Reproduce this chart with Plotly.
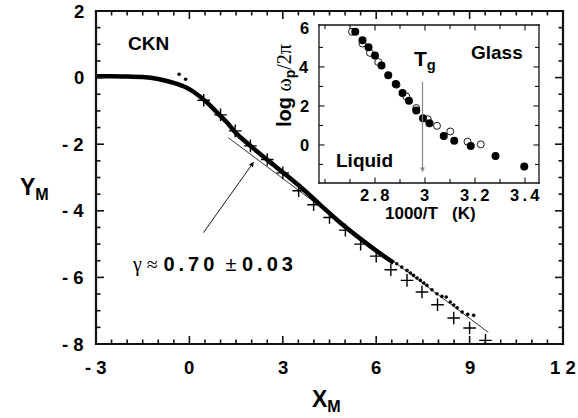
import plotly.graph_objects as go

# ---- master curve Y_M vs X_M (dense dots, drawn as a thick trace) ----
curve_x = [-3.0, -2.5, -2.0, -1.5, -1.0, -0.5, -0.1, 0.24, 0.57, 0.89, 1.21, 1.53,
           2.0, 2.5, 3.14, 3.7, 4.21, 4.8, 5.49, 6.0, 6.56]
curve_y = [0.04, 0.04, 0.03, 0.02, -0.04, -0.16, -0.30, -0.50, -0.75, -1.05, -1.35, -1.70,
           -2.08, -2.47, -2.95, -3.39, -3.83, -4.32, -4.84, -5.20, -5.56]

# sparse dots at the tail of the curve and a couple of stray points near the knee
dots_x = [-0.33, -0.12, 6.66, 6.82, 6.99, 7.10, 7.20, 7.31, 7.42, 7.53, 7.63, 7.79, 7.95,
          8.11, 8.25, 8.38, 8.49, 8.60, 8.76, 8.94, 9.13]
dots_y = [0.10, -0.05, -5.59, -5.69, -5.79, -5.87, -5.94, -6.02, -6.09, -6.17, -6.24, -6.37,
          -6.49, -6.57, -6.59, -6.74, -6.83, -6.91, -7.04, -7.11, -7.14]

# second data set (crosses)
cross_x = [0.46, 1.0, 1.47, 1.96, 2.5, 3.0, 3.51, 3.99, 4.50, 5.01, 5.50, 6.00, 6.47, 6.99,
           7.47, 7.97, 8.49, 9.00, 9.51]
cross_y = [-0.68, -1.12, -1.60, -2.05, -2.46, -2.86, -3.40, -3.82, -4.20, -4.58, -5.00, -5.36,
           -5.77, -6.09, -6.44, -6.82, -7.22, -7.52, -7.89]

# power-law fit line, slope -gamma
GAMMA = 0.70
GAMMA_ERR = 0.03
FIT_INTERCEPT = -0.93
fit_x = [1.25, 9.60]

# ---- inset: log(omega_p / 2 pi) vs 1000/T ----
filled_x = [2.721, 2.750, 2.774, 2.800, 2.826, 2.853, 2.883, 2.910, 2.936, 2.965, 2.992,
            3.018, 3.075, 3.117, 3.183, 3.282, 3.397]
filled_y = [5.80, 5.37, 5.01, 4.58, 4.07, 3.57, 3.12, 2.66, 2.26, 1.77, 1.37, 1.11, 0.46,
            0.22, -0.05, -0.57, -1.11]
open_x = [2.708, 2.750, 2.780, 2.813, 2.886, 2.925, 2.965, 3.011, 3.048, 3.101, 3.170, 3.223]
open_y = [5.80, 5.20, 4.72, 4.25, 3.09, 2.49, 1.89, 1.32, 0.98, 0.69, 0.17, 0.03]
TG = 2.99

# tick labels
main_xticks = [-3, 0, 3, 6, 9, 12]
main_xtext = ["- 3", "0", "3", "6", "9", "1 2"]
main_yticks = [2, 0, -2, -4, -6, -8]
main_ytext = ["2", "0", "- 2", "- 4", "- 6", "- 8"]
inset_xticks = [2.8, 3.0, 3.2, 3.4]
inset_xtext = ["2.8", "3", "3.2", "3.4"]
inset_yticks = [0, 2, 4, 6]
inset_ytext = ["0", "2", "4", "6"]

MAIN_XRANGE = [-3, 12]
MAIN_YRANGE = [-8, 2]
INSET_XRANGE = [2.576, 3.456]
INSET_YRANGE = [-1.95, 6.15]

# minor tick positions
main_xminor = [-3 + 0.5 * i for i in range(31)]
main_yminor = [-8 + 0.5 * i for i in range(21)]
inset_xminor = [2.6 + 0.1 * i for i in range(9)]
inset_yminor = [-1 + i for i in range(7)]

W, H = 578, 418
MARGIN = dict(l=96, r=15, t=11, b=74)
MAIN_DOM_X, MAIN_DOM_Y = [0, 1], [0, 1]
INSET_DOM_X, INSET_DOM_Y = [0.4775, 0.9486], [0.4835, 0.958]
PLOT_W = W - MARGIN["l"] - MARGIN["r"]
PLOT_H = H - MARGIN["t"] - MARGIN["b"]

# plotly's line-ns / line-ew symbols are 1.4 x the marker size long
LINE_SYMBOL_SCALE = 1.4

INK = "#111111"
FONT = "Liberation Sans, Arial, sans-serif"
SERIF = "Liberation Serif, Times New Roman, serif"


def spaced(s):
    # thin spaces between characters, for the wide-set numerals
    return "\u2009".join(s)


fig = go.Figure()

fig.add_trace(go.Scatter(x=curve_x, y=curve_y, mode="lines",
                         line=dict(color="black", width=4.5, shape="spline"),
                         hoverinfo="skip"))
fig.add_trace(go.Scatter(x=dots_x, y=dots_y, mode="markers",
                         marker=dict(color="black", size=3.6)))
fig.add_trace(go.Scatter(x=fit_x, y=[FIT_INTERCEPT - GAMMA * v for v in fit_x], mode="lines",
                         line=dict(color="black", width=0.8)))
fig.add_trace(go.Scatter(x=cross_x, y=cross_y, mode="markers",
                         marker=dict(symbol="cross-thin", size=9, color="black",
                                     line=dict(color="black", width=1.4))))

fig.add_trace(go.Scatter(x=open_x, y=open_y, mode="markers", xaxis="x2", yaxis="y2",
                         marker=dict(symbol="circle-open", size=7, color="black",
                                     line=dict(color="black", width=0.9))))
fig.add_trace(go.Scatter(x=filled_x, y=filled_y, mode="markers", xaxis="x2", yaxis="y2",
                         marker=dict(symbol="circle", size=8, color="black")))


def bar_markers(xa, ya, xs, ys, symbol, length_px, width):
    """Straight strokes of a given pixel length, centred on each (x, y)."""
    fig.add_trace(go.Scatter(x=xs, y=ys, mode="markers", xaxis=xa, yaxis=ya,
                             hoverinfo="skip", cliponaxis=False,
                             marker=dict(symbol=symbol, size=length_px / LINE_SYMBOL_SCALE,
                                         color=INK, line=dict(color=INK, width=width))))


def add_frame(xa, ya, xrng, yrng, dom_x, dom_y, lw, major_x, minor_x, major_y, minor_y,
              tmaj, tmin, twid):
    """Box frame with inward ticks on all four sides, built from line markers."""
    x0, x1 = xrng
    y0, y1 = yrng
    wpx = PLOT_W * (dom_x[1] - dom_x[0])
    hpx = PLOT_H * (dom_y[1] - dom_y[0])
    ux = (x1 - x0) / wpx   # data units per pixel
    uy = (y1 - y0) / hpx
    xm, ym = (x0 + x1) / 2, (y0 + y1) / 2
    bar_markers(xa, ya, [xm, xm], [y0, y1], "line-ew", wpx + lw, lw)
    bar_markers(xa, ya, [x0, x1], [ym, ym], "line-ns", hpx + lw, lw)
    for major, ln in [(True, tmaj), (False, tmin)]:
        xs = [v for v in minor_x
              if x0 < v < x1 and any(abs(v - m) < 1e-9 for m in major_x) == major]
        ys = [v for v in minor_y
              if y0 < v < y1 and any(abs(v - m) < 1e-9 for m in major_y) == major]
        h = ln / 2
        bar_markers(xa, ya, xs + xs, [y0 + h * uy] * len(xs) + [y1 - h * uy] * len(xs),
                    "line-ns", ln, twid)
        bar_markers(xa, ya, [x0 + h * ux] * len(ys) + [x1 - h * ux] * len(ys), ys + ys,
                    "line-ew", ln, twid)


add_frame("x", "y", MAIN_XRANGE, MAIN_YRANGE, MAIN_DOM_X, MAIN_DOM_Y, 2.2,
          main_xticks, main_xminor, main_yticks, main_yminor, 8, 4.5, 1.6)
add_frame("x2", "y2", INSET_XRANGE, INSET_YRANGE, INSET_DOM_X, INSET_DOM_Y, 1.3,
          inset_xticks, inset_xminor, inset_yticks, inset_yminor, 5.5, 4, 1.1)

# axes only carry the scales; frame, ticks and labels are drawn separately
bare = dict(showgrid=False, zeroline=False, showline=False, ticks="",
            showticklabels=False, automargin=False, fixedrange=True)

fig.update_layout(
    width=W, height=H,
    margin=dict(**MARGIN, autoexpand=False),
    paper_bgcolor="white", plot_bgcolor="white",
    showlegend=False,
    font=dict(family=FONT, color="black"),
    xaxis=dict(range=MAIN_XRANGE, domain=MAIN_DOM_X, anchor="y", **bare),
    yaxis=dict(range=MAIN_YRANGE, domain=MAIN_DOM_Y, anchor="x", **bare),
    xaxis2=dict(range=INSET_XRANGE, domain=INSET_DOM_X, anchor="y2", **bare),
    yaxis2=dict(range=INSET_YRANGE, domain=INSET_DOM_Y, anchor="x2", **bare),
)

ann = []
# tick labels
for v, t in zip(main_xticks, main_xtext):
    ann.append(dict(text=f"<b>{t}</b>", x=v, y=0, xref="x", yref="y domain",
                    yshift=-23, showarrow=False, xanchor="center", yanchor="middle",
                    font=dict(size=18.5, family=FONT)))
for v, t in zip(main_yticks, main_ytext):
    ann.append(dict(text=f"<b>{t}</b>", x=0, y=v, xref="x domain", yref="y",
                    xshift=-10, showarrow=False, xanchor="right", yanchor="middle",
                    font=dict(size=18.5, family=FONT)))
for v, t in zip(inset_xticks, inset_xtext):
    ann.append(dict(text=f"<b>{spaced(t)}</b>", x=v, y=0, xref="x2", yref="y2 domain",
                    yshift=-12, showarrow=False, xanchor="center", yanchor="middle",
                    font=dict(size=16.5, family=FONT)))
for v, t in zip(inset_yticks, inset_ytext):
    ann.append(dict(text=f"<b>{t}</b>", x=0, y=v, xref="x2 domain", yref="y2",
                    xshift=-8, showarrow=False, xanchor="right", yanchor="middle",
                    font=dict(size=16.5, family=FONT)))

# axis titles
ann.append(dict(text="<b>X</b><sub><b>M</b></sub>", xref="paper", yref="paper",
                x=(326 - 96) / 467, y=(344 - 400) / 333, showarrow=False,
                font=dict(size=23, family=FONT), xanchor="center", yanchor="middle"))
ann.append(dict(text="<b>Y</b><sub><b>M</b></sub>", xref="paper", yref="paper",
                x=(34 - 96) / 467, y=(344 - 188) / 333, showarrow=False,
                font=dict(size=23, family=FONT), xanchor="center", yanchor="middle"))
# sample name
ann.append(dict(text="<b>CKN</b>", xref="paper", yref="paper",
                x=(148 - 96) / 467, y=(344 - 44) / 333, showarrow=False,
                font=dict(size=19, family=FONT), xanchor="center", yanchor="middle"))
# fit exponent label and arrow to the fit line
ann.append(dict(text=f"<span style='font-family:{SERIF}'>γ ≈</span> "
                     f"<b>{spaced(f'{GAMMA:.2f}')}</b>  ± <b>{spaced(f'{GAMMA_ERR:.2f}')}</b>",
                xref="paper", yref="paper",
                x=(212 - 96) / 467, y=(344 - 264) / 333, showarrow=False,
                font=dict(size=20, family=FONT), xanchor="center", yanchor="middle"))
ann.append(dict(text="", x=2.07, y=-2.53, ax=0.44, ay=-4.67, xref="x", yref="y",
                axref="x", ayref="y", showarrow=True, arrowhead=2, arrowsize=1.1,
                arrowwidth=0.9, arrowcolor="black", borderpad=0, font=dict(size=1)))
# inset annotations
ann.append(dict(text="", x=TG, y=-1.40, ax=TG, ay=3.26, xref="x2", yref="y2",
                axref="x2", ayref="y2", showarrow=True, arrowhead=2, arrowsize=0.8,
                arrowwidth=1.2, arrowcolor="#888888", borderpad=0, font=dict(size=1)))
ann.append(dict(text="<b>T</b><sub><b>g</b></sub>", x=3.00, y=4.35, xref="x2", yref="y2",
                showarrow=False, font=dict(size=21, family=FONT),
                xanchor="center", yanchor="middle"))
ann.append(dict(text="<b>Glass</b>", x=3.29, y=4.75, xref="x2", yref="y2",
                showarrow=False, font=dict(size=19, family=FONT),
                xanchor="center", yanchor="middle"))
ann.append(dict(text="<b>Liquid</b>", x=2.76, y=-0.78, xref="x2", yref="y2",
                showarrow=False, font=dict(size=19, family=FONT),
                xanchor="center", yanchor="middle"))
ann.append(dict(text="<b>1000/T   (K)</b>", xref="paper", yref="paper",
                x=(430 - 96) / 467, y=(344 - 213) / 333, showarrow=False,
                font=dict(size=17, family=FONT), xanchor="center", yanchor="middle"))
ann.append(dict(text=f"<b>log</b> <span style='font-family:{SERIF}'>ω</span>"
                     f"<sub><b>p</b></sub><span style='font-family:{SERIF}'>/2π</span>",
                xref="paper", yref="paper",
                x=(285 - 96) / 467, y=(344 - 86) / 333, showarrow=False, textangle=-90,
                font=dict(size=20, family=FONT), xanchor="center", yanchor="middle"))
fig.update_layout(annotations=ann)

fig.write_html("out.html")
